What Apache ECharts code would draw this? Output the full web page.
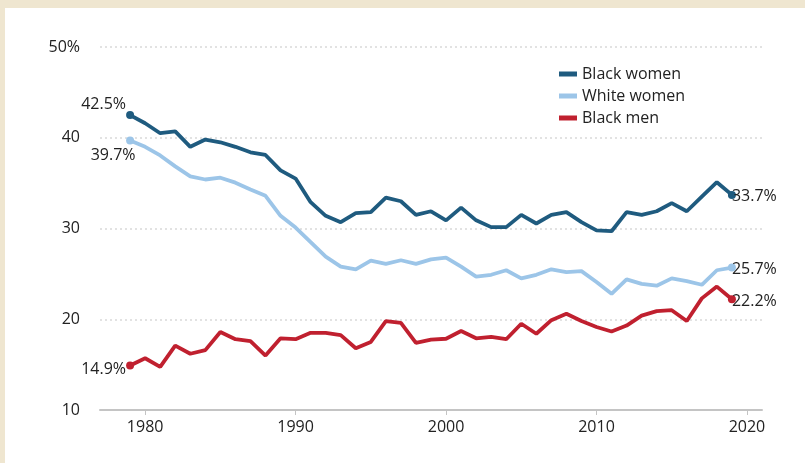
<!DOCTYPE html>
<html>
<head>
<meta charset="utf-8">
<script src="https://cdn.jsdelivr.net/npm/echarts@6/dist/echarts.min.js"></script>
<style>
  html, body { margin: 0; padding: 0; background: #fff; }
  #chart { width: 805px; height: 463px; }
</style>
</head>
<body>
<div id="chart"></div>
<script>
// years 1979 - 2019
const years = [];
for (let y = 1979; y <= 2019; y++) years.push(y);

const blackWomen = [42.5, 41.6, 40.5, 40.7, 39.0, 39.8, 39.5, 39.0, 38.4, 38.1,
  36.4, 35.5, 32.9, 31.4, 30.7, 31.7, 31.8, 33.4, 33.0, 31.5,
  31.9, 30.9, 32.3, 30.9, 30.15, 30.15, 31.5, 30.55, 31.5, 31.8,
  30.7, 29.8, 29.7, 31.8, 31.5, 31.9, 32.8, 31.9, 33.5, 35.1, 33.7];

const whiteWomen = [39.7, 39.0, 38.05, 36.85, 35.75, 35.4, 35.6, 35.05, 34.3, 33.6,
  31.4, 30.1, 28.5, 26.9, 25.8, 25.5, 26.45, 26.1, 26.5, 26.1,
  26.6, 26.8, 25.8, 24.7, 24.9, 25.4, 24.5, 24.9, 25.5, 25.2,
  25.3, 24.1, 22.8, 24.4, 23.9, 23.7, 24.5, 24.2, 23.8, 25.4, 25.7];

const blackMen = [14.9, 15.7, 14.75, 17.1, 16.2, 16.6, 18.6, 17.8, 17.6, 16.0,
  17.9, 17.8, 18.5, 18.5, 18.25, 16.8, 17.5, 19.8, 19.6, 17.4,
  17.75, 17.85, 18.7, 17.9, 18.05, 17.8, 19.5, 18.4, 19.9, 20.6,
  19.8, 19.15, 18.65, 19.3, 20.4, 20.9, 21.0, 19.8, 22.3, 23.6, 22.2];

const decadeTicks = [1980, 1990, 2000, 2010, 2020];

const chart = echarts.init(document.getElementById('chart'));
const font = '"Open Sans", sans-serif';

// first / last points get a dot and a label
function build(vals, first, last) {
  return vals.map((v, i) => {
    const item = { value: [years[i], v] };
    if (i === 0 || i === vals.length - 1) {
      const lab = i === 0 ? first : last;
      item.symbol = 'circle';
      item.symbolSize = 8;
      item.label = Object.assign({
        show: true, formatter: v.toFixed(1) + '%',
        color: '#222', fontSize: 16, fontFamily: font
      }, lab);
    }
    return item;
  });
}

function line(name, color, vals, first, last) {
  return {
    name: name,
    type: 'line',
    symbol: 'none',
    showAllSymbol: true,
    lineStyle: { color: color, width: 3.8 },
    itemStyle: { color: color },
    emphasis: { disabled: true },
    data: build(vals, first, last)
  };
}

chart.setOption({
  backgroundColor: '#fff',
  animation: false,
  graphic: [
    { type: 'rect', shape: { x: 0, y: 0, width: 805, height: 8 }, style: { fill: '#efe6d0' } },
    { type: 'rect', shape: { x: 0, y: 0, width: 5, height: 463 }, style: { fill: '#efe6d0' } }
  ],
  grid: { left: 100, right: 43, top: 47, bottom: 53 },
  legend: {
    orient: 'vertical',
    left: 554,
    top: 61,
    icon: 'rect',
    itemWidth: 18,
    itemHeight: 5,
    itemGap: 6,
    textStyle: { color: '#222', fontSize: 16, fontFamily: font },
    data: ['Black women', 'White women', 'Black men']
  },
  xAxis: {
    type: 'value',
    min: 1977,
    max: 2021,
    splitLine: { show: false },
    axisLine: { show: true, lineStyle: { color: '#c4c4c4', width: 2 } },
    axisTick: { show: true, customValues: decadeTicks, length: 5, lineStyle: { color: '#c4c4c4' } },
    axisLabel: {
      customValues: decadeTicks, color: '#222', fontSize: 16, fontFamily: font, margin: 9,
      formatter: v => String(v)
    }
  },
  yAxis: {
    type: 'value',
    min: 10,
    max: 50,
    interval: 10,
    axisLine: { show: false },
    axisTick: { show: false },
    splitLine: { lineStyle: { color: '#e2e2e2', width: 2, type: [2, 3] } },
    axisLabel: {
      color: '#222', fontSize: 16, fontFamily: font, margin: 20,
      formatter: v => (v === 50 ? '50%' : v)
    }
  },
  series: [
    line('Black women', '#1f5b7f', blackWomen,
      { position: 'left', distance: 0, offset: [0, -11] },
      { position: 'right', distance: 0, offset: [-4, 2] }),
    line('White women', '#9cc5e8', whiteWomen,
      { position: 'bottom', distance: 3, offset: [-17, 0] },
      { position: 'right', distance: 0, offset: [-4, 2] }),
    line('Black men', '#c0202f', blackMen,
      { position: 'left', distance: 0, offset: [0, 4] },
      { position: 'right', distance: 0, offset: [-4, 2] })
  ]
});
</script>
</body>
</html>
